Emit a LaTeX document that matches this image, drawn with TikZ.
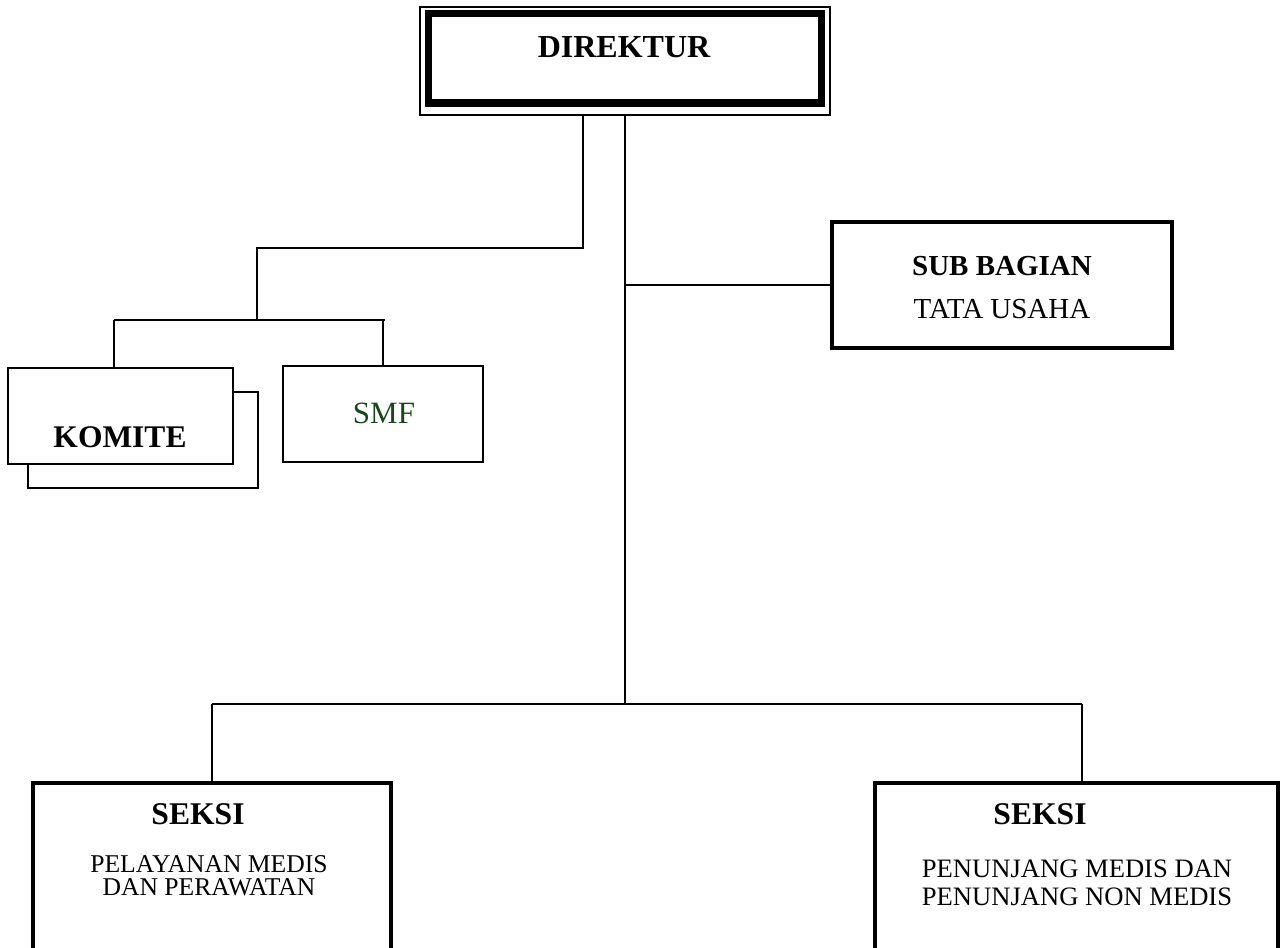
\documentclass[tikz,border=0pt]{standalone}
\usepackage{fontspec}
\setmainfont{Liberation Serif}
\usetikzlibrary{positioning}
\definecolor{smfgreen}{RGB}{24,72,24}

\begin{document}
\begin{tikzpicture}
  [x=0.5pt, y=-0.5pt,
  frame/.style={draw, rectangle, inner sep=0pt, fill=white},
  conn/.style={line width=1.2pt},
  lbl/.style={inner sep=0pt, anchor=base},
  head/.style={lbl, font=\fontsize{15.8}{18}\selectfont\bfseries},
  sub/.style={lbl, font=\fontsize{13.3}{16}\selectfont}]
  \path[use as bounding box, clip] (0,0) rectangle (1288,947);

  % direktur
  \node[frame, line width=0.75pt, minimum width=205pt, minimum height=54pt] (dirframe) at (625,61) {};
  \node[frame, line width=3.5pt, minimum width=196.5pt, minimum height=44.75pt] (dir) at (625,58.25) {};
  \node[head, font=\fontsize{16}{19}\selectfont\bfseries] (dirtext) at (624,58) {DIREKTUR};

  % sub bagian
  \node[frame, line width=2pt, minimum width=170pt, minimum height=63pt] (subbag) at (1002,285) {};
  \node[lbl, font=\fontsize{14.5}{17}\selectfont\bfseries] (subhead) at (1002,275) {SUB BAGIAN};
  \node[lbl, font=\fontsize{14.5}{17}\selectfont] (subtext) at (1002,318) {TATA USAHA};

  % komite and smf
  \node[frame, line width=1.2pt, minimum width=115pt, minimum height=48pt] (komiteback) at (143,440) {};
  \node[frame, line width=1.2pt, minimum width=112.5pt, minimum height=48pt] (komite) at (120.5,416) {};
  \node[head, font=\fontsize{15.75}{18}\selectfont\bfseries] (komitetext) at (120,447) {KOMITE};
  \node[frame, line width=1.4pt, minimum width=100pt, minimum height=48pt] (smf) at (383,414) {};
  \node[lbl, text=smfgreen, font=\fontsize{15.5}{18}\selectfont] (smftext) at (384,423) {SMF};

  % seksi
  \node[frame, line width=2pt, minimum width=179pt, minimum height=108.5pt] (seksiA) at (212,891.5) {};
  \node[head] (seksiAhead) at (198,824) {SEKSI};
  \node[sub, font=\fontsize{12.8}{15}\selectfont] (seksiAline1) at (209,872) {PELAYANAN MEDIS};
  \node[sub, font=\fontsize{12.8}{15}\selectfont] (seksiAline2) at (209,895) {DAN PERAWATAN};
  \node[frame, line width=2pt, minimum width=201.5pt, minimum height=108.5pt] (seksiB) at (1076.5,891.5) {};
  \node[head] (seksiBhead) at (1040,824) {SEKSI};
  \node[sub] (seksiBline1) at (1077,877) {PENUNJANG MEDIS DAN};
  \node[sub] (seksiBline2) at (1077,905) {PENUNJANG NON MEDIS};

  % connectors
  \coordinate (elbow) at (257,248);
  \coordinate (komhub) at (257,320);
  \coordinate (botjoin) at (625,704);
  \coordinate (komtop) at ([xshift=-3.25pt]komite.north);
  \coordinate (seksiBtop) at ([xshift=2.75pt]seksiB.north);

  \draw[conn] ([xshift=-21pt]dirframe.south) |- (elbow) -- (komhub);
  \draw[conn] (komtop |- komhub) -- ([xshift=1pt]smf.north |- komhub);
  \draw[conn] (komtop |- komhub) -- (komtop);
  \draw[conn] (smf.north |- komhub) -- (smf.north);

  \draw[conn] (dirframe.south) -- (botjoin);
  \draw[conn] (subbag.west) -- (subbag.west -| botjoin);
  \draw[conn] (seksiA.north |- botjoin) -- (seksiBtop |- botjoin);
  \draw[conn] (seksiA.north |- botjoin) -- (seksiA.north);
  \draw[conn] (seksiBtop |- botjoin) -- (seksiBtop);
\end{tikzpicture}
\end{document}
